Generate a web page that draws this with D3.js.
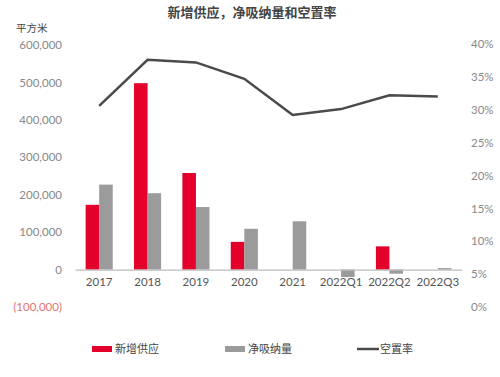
<!DOCTYPE html>
<html>
<head>
<meta charset="utf-8">
<script src="https://cdn.jsdelivr.net/npm/d3@7"></script>
<style>
  body { margin: 0; background: #fff; }
  svg { display: block; font-family: "Noto Sans CJK SC", "Open Sans", sans-serif; }
</style>
</head>
<body>
<svg></svg>
<script>
const categories = ['2017', '2018', '2019', '2020', '2021', '2022Q1', '2022Q2', '2022Q3'];
const supply = [173000, 498000, 258000, 74000, 0, 0, 62000, 0];
const absorption = [227000, 204000, 167000, 109000, 129000, -20000, -11000, 4000];
const vacancy = [0.306, 0.376, 0.372, 0.347, 0.292, 0.301, 0.322, 0.320];
const leftTicks = [-100000, 0, 100000, 200000, 300000, 400000, 500000, 600000];
const rightTicks = [0, 0.05, 0.1, 0.15, 0.2, 0.25, 0.3, 0.35, 0.4];
const seriesNames = ['新增供应', '净吸纳量', '空置率'];

const width = 500, height = 377;
const red = '#e3002b', gray = '#9b9b9b', lineColor = '#4a4a4a';

const svg = d3.select('svg')
  .attr('width', width)
  .attr('height', height);

const x0 = d3.scaleBand()
  .domain(categories)
  .range([75, 462])
  .paddingInner(0.44)
  .paddingOuter(0.22);

const x1 = d3.scaleBand()
  .domain(['supply', 'absorption'])
  .range([0, x0.bandwidth()]);

const yLeft = d3.scaleLinear().domain([-100000, 600000]).range([307, 45]);
const yRight = d3.scaleLinear().domain([0, 0.4]).range([307, 44]);

// title
svg.append('text')
  .attr('x', 252).attr('y', 17)
  .attr('text-anchor', 'middle')
  .attr('font-size', 13)
  .attr('font-weight', 'bold')
  .attr('fill', '#444')
  .text('新增供应，净吸纳量和空置率');

svg.append('text')
  .attr('x', 16).attr('y', 32)
  .attr('font-size', 10.5)
  .attr('fill', '#444')
  .text('平方米');

// left axis
const fmt = d3.format(',');
const leftAxis = d3.axisLeft(yLeft)
  .tickValues(leftTicks)
  .tickSize(0)
  .tickPadding(0)
  .tickFormat(d => d < 0 ? '(' + fmt(-d) + ')' : fmt(d));

const gl = svg.append('g')
  .attr('transform', 'translate(62,0)')
  .call(leftAxis);
gl.select('.domain').remove();
gl.selectAll('text')
  .attr('font-size', 11.5)
  .attr('font-family', 'Lato, "Open Sans", sans-serif')
  .attr('fill', d => d < 0 ? '#e57373' : '#888');

// right axis
const rightAxis = d3.axisRight(yRight)
  .tickValues(rightTicks)
  .tickSize(0)
  .tickPadding(0)
  .tickFormat(d3.format('.0%'));

const gr = svg.append('g')
  .attr('transform', 'translate(471,0)')
  .call(rightAxis);
gr.select('.domain').remove();
gr.selectAll('text')
  .attr('font-size', 11.5)
  .attr('font-family', 'Lato, "Open Sans", sans-serif')
  .attr('fill', '#888');

// bars
const rows = categories.map((c, i) => ({ cat: c, values: [
  { key: 'supply', value: supply[i], color: red },
  { key: 'absorption', value: absorption[i], color: gray }
]}));

const groups = svg.append('g').selectAll('g')
  .data(rows)
  .enter().append('g')
  .attr('transform', d => `translate(${x0(d.cat)},0)`);

groups.selectAll('rect')
  .data(d => d.values.filter(v => v.value !== 0))
  .enter().append('rect')
  .attr('x', d => x1(d.key))
  .attr('width', x1.bandwidth())
  .attr('y', d => yLeft(Math.max(0, d.value)))
  .attr('height', d => Math.abs(yLeft(d.value) - yLeft(0)))
  .attr('fill', d => d.color);

// baseline / category axis
const xAxis = d3.axisBottom(x0).tickSize(0).tickPadding(8);
const gx = svg.append('g')
  .attr('transform', `translate(0,${yLeft(0)})`)
  .call(xAxis);
gx.select('.domain').attr('stroke', '#bbb').attr('stroke-width', 1.2);
gx.selectAll('text')
  .attr('font-size', 11.5)
  .attr('font-family', 'Lato, "Open Sans", sans-serif')
  .attr('fill', '#555');

// vacancy line
const line = d3.line()
  .x((d, i) => x0(categories[i]) + x0.bandwidth() / 2)
  .y(d => yRight(d));

svg.append('path')
  .datum(vacancy)
  .attr('d', line)
  .attr('fill', 'none')
  .attr('stroke', lineColor)
  .attr('stroke-width', 2.5);

// legend
const legend = svg.append('g').attr('transform', 'translate(0,349)');
const legendX = [92, 225, 357];
legend.append('rect').attr('x', legendX[0]).attr('y', -3).attr('width', 20).attr('height', 6).attr('fill', red);
legend.append('rect').attr('x', legendX[1]).attr('y', -3).attr('width', 20).attr('height', 6).attr('fill', gray);
legend.append('line').attr('x1', legendX[2]).attr('x2', legendX[2] + 22)
  .attr('y1', 0).attr('y2', 0).attr('stroke', lineColor).attr('stroke-width', 2.5);
legend.selectAll('text.lg')
  .data(seriesNames)
  .enter().append('text')
  .attr('class', 'lg')
  .attr('x', (d, i) => legendX[i] + (i === 2 ? 23 : 23))
  .attr('y', 4)
  .attr('font-size', 11)
  .attr('fill', '#444')
  .text(d => d);
</script>
</body>
</html>
